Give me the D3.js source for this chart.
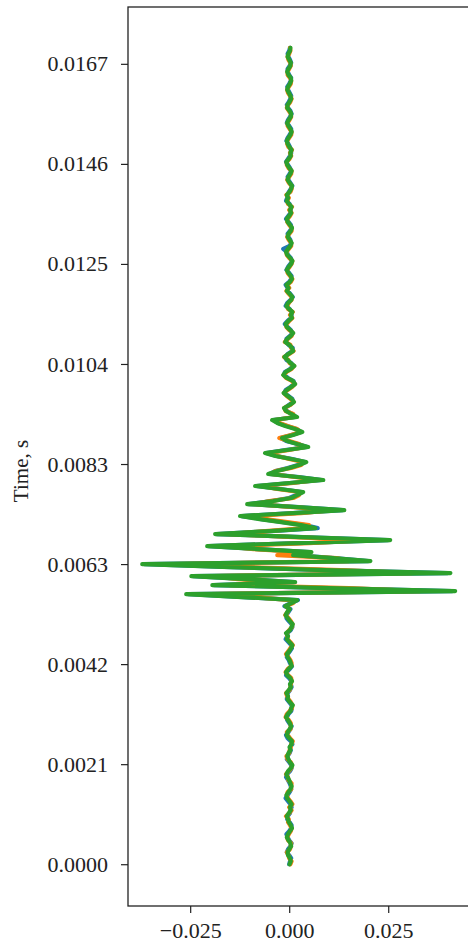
<!DOCTYPE html>
<html>
<head>
<meta charset="utf-8">
<script src="https://cdn.jsdelivr.net/npm/d3@7"></script>
<style>
html,body{margin:0;padding:0;background:#fff;}
svg{display:block;}
text{font-family:"Liberation Serif","Times New Roman",serif;}
</style>
</head>
<body>
<svg id="chart" width="468" height="949"></svg>
<script>
// sampling rate of the traces (Hz); time of sample i is i / sampleRate
const sampleRate = 16000;

const seriesNames = ["trace 1", "trace 2", "trace 3"];
const seriesColors = ["#1f77b4", "#ff7f0e", "#2ca02c"];

const blueValues = [
0.0000,0.0002,0.0005,0.0000,-0.0006,-0.0003,0.0003,0.0006,0.0000,-0.0004,
-0.0007,0.0000,0.0005,0.0006,0.0001,-0.0005,-0.0004,0.0002,0.0003,0.0006,
0.0003,-0.0003,-0.0009,-0.0004,0.0001,0.0005,0.0004,0.0001,-0.0003,-0.0008,
-0.0005,0.0002,0.0006,0.0005,0.0000,-0.0006,-0.0004,0.0001,0.0004,0.0002,
0.0008,0.0004,-0.0004,-0.0008,-0.0002,0.0003,0.0006,0.0000,-0.0005,-0.0006,
-0.0002,0.0005,0.0007,0.0006,0.0000,-0.0006,-0.0005,-0.0004,0.0002,0.0006,
0.0004,0.0005,0.0000,-0.0008,-0.0006,0.0001,0.0007,0.0002,-0.0001,-0.0006,
-0.0004,0.0002,0.0007,0.0005,-0.0002,-0.0009,-0.0005,-0.0005,0.0004,0.0008,
0.0006,-0.0001,-0.0007,-0.0007,-0.0002,0.0003,
-0.0012,0.0004,0.0022,-0.0115,-0.0255,0.0412,0.0105,-0.0190,0.0012,-0.0105,
-0.0243,0.0400,0.0095,-0.0145,-0.0365,0.0200,0.0115,0.0015,0.0052,-0.0078,
-0.0203,0.0018,0.0250,0.0035,-0.0183,-0.0045,0.0072,0.0040,-0.0015,-0.0070,
-0.0120,0.0008,0.0135,0.0025,-0.0102,-0.0045,0.0000,0.0018,0.0032,-0.0022,
-0.0083,0.0002,0.0082,0.0025,-0.0050,-0.0035,-0.0004,0.0022,0.0040,0.0008,
-0.0032,-0.0058,-0.0010,0.0045,0.0022,-0.0008,-0.0022,0.0006,0.0030,0.0018,
-0.0006,-0.0028,-0.0040,0.0016,0.0008,
-0.0006,-0.0011,-0.0001,0.0010,0.0008,-0.0002,-0.0012,-0.0009,0.0003,0.0013,
0.0011,-0.0003,-0.0013,-0.0011,0.0002,0.0011,0.0005,-0.0007,-0.0010,-0.0004,
0.0008,0.0009,-0.0001,-0.0008,-0.0007,0.0002,0.0008,0.0004,-0.0004,-0.0011,
-0.0004,0.0005,0.0006,0.0006,0.0001,-0.0009,-0.0005,0.0003,0.0009,0.0003,
-0.0004,-0.0004,-0.0009,0.0000,0.0005,0.0006,0.0000,-0.0007,-0.0003,0.0003,
0.0007,0.0004,-0.0003,-0.0006,-0.0015,0.0001,0.0005,0.0003,-0.0002,-0.0004,
0.0002,0.0006,0.0004,-0.0002,-0.0008,-0.0002,0.0003,0.0004,0.0004,0.0001,
-0.0008,-0.0005,-0.0004,-0.0001,0.0004,0.0008,0.0003,-0.0002,-0.0004,0.0001,
0.0005,0.0002,-0.0003,-0.0008,-0.0003,0.0002,0.0005,0.0004,0.0002,-0.0002,
-0.0007,-0.0004,0.0001,0.0005,0.0005,0.0000,-0.0006,-0.0003,0.0002,0.0006,
0.0003,-0.0003,-0.0006,-0.0001,0.0003,0.0005,0.0001,-0.0003,-0.0005,0.0000,
0.0004,0.0005,0.0000,-0.0004,-0.0004,0.0001,0.0005,0.0002,-0.0002,-0.0004,
0.0000,0.0002
];

const orangeValues = [
0.0003,0.0006,0.0000,-0.0002,-0.0006,0.0002,0.0004,0.0005,-0.0003,-0.0005,
-0.0001,0.0004,0.0006,0.0002,-0.0003,-0.0001,-0.0008,0.0000,0.0006,0.0000,
0.0008,0.0003,-0.0003,-0.0006,-0.0004,0.0005,0.0005,0.0006,-0.0002,-0.0003,
-0.0008,-0.0001,0.0005,0.0007,0.0004,-0.0004,-0.0007,0.0000,0.0001,0.0004,
0.0005,0.0009,0.0002,-0.0004,-0.0006,0.0003,0.0004,0.0004,-0.0001,-0.0009,
-0.0006,0.0001,0.0007,0.0008,0.0004,-0.0002,-0.0005,-0.0008,0.0001,0.0003,
0.0004,0.0006,0.0005,-0.0003,-0.0009,-0.0004,0.0005,0.0006,0.0003,-0.0002,
-0.0008,-0.0002,0.0003,0.0009,0.0003,-0.0004,-0.0005,-0.0006,0.0000,0.0007,
0.0008,0.0004,-0.0002,-0.0010,-0.0004,-0.0001,
-0.0008,0.0010,0.0005,-0.0090,-0.0200,0.0330,0.0150,-0.0150,-0.0020,-0.0130,
-0.0190,0.0310,0.0130,-0.0110,-0.0290,0.0150,0.0120,-0.0030,0.0030,-0.0090,
-0.0160,0.0050,0.0200,0.0010,-0.0150,-0.0060,0.0040,0.0050,-0.0005,-0.0060,
-0.0100,0.0030,0.0110,0.0010,-0.0085,-0.0050,0.0010,0.0025,0.0025,-0.0030,
-0.0070,0.0010,0.0070,0.0015,-0.0045,-0.0035,0.0005,0.0030,0.0035,0.0000,
-0.0030,-0.0050,0.0000,0.0040,0.0025,0.0000,-0.0025,0.0005,0.0028,0.0020,
-0.0004,-0.0025,-0.0035,0.0012,0.0010,
-0.0009,-0.0012,0.0003,0.0011,0.0004,-0.0006,-0.0013,-0.0004,0.0007,0.0014,
0.0007,-0.0008,-0.0014,-0.0007,0.0006,0.0012,0.0001,-0.0002,-0.0013,0.0000,
0.0011,0.0005,0.0003,-0.0011,-0.0003,0.0006,0.0009,0.0000,-0.0007,-0.0007,
0.0000,0.0008,0.0002,0.0009,-0.0003,-0.0005,-0.0001,0.0006,0.0006,-0.0001,
-0.0007,0.0000,-0.0005,0.0004,0.0008,0.0002,-0.0004,-0.0005,0.0001,0.0006,
0.0008,0.0000,-0.0006,-0.0007,-0.0001,0.0005,0.0005,-0.0001,-0.0005,0.0000,
0.0006,0.0006,0.0000,-0.0005,-0.0004,0.0002,0.0006,0.0000,0.0007,-0.0003,
-0.0005,-0.0001,-0.0007,0.0003,0.0006,0.0006,-0.0001,-0.0005,0.0000,0.0005,
0.0006,-0.0002,-0.0006,-0.0006,0.0001,0.0005,0.0002,0.0007,-0.0002,-0.0005,
-0.0005,0.0000,0.0005,0.0006,0.0001,-0.0004,-0.0004,0.0001,0.0005,0.0004,
-0.0001,-0.0006,-0.0003,0.0003,0.0006,0.0002,-0.0003,-0.0005,-0.0001,0.0004,
0.0005,0.0002,-0.0004,-0.0004,0.0000,0.0004,0.0003,-0.0002,-0.0004,0.0000,
0.0003,0.0002
];

const greenValues = [
0.0001,0.0004,0.0002,-0.0003,-0.0004,0.0000,0.0005,0.0003,-0.0002,-0.0006,
-0.0003,0.0002,0.0007,0.0004,-0.0001,-0.0003,-0.0006,-0.0001,0.0004,0.0002,
0.0006,0.0001,-0.0005,-0.0007,-0.0002,0.0003,0.0006,0.0003,0.0000,-0.0004,
-0.0007,-0.0003,0.0004,0.0008,0.0002,-0.0002,-0.0005,-0.0002,0.0003,0.0001,
0.0006,0.0007,0.0000,-0.0006,-0.0004,0.0001,0.0005,0.0002,-0.0003,-0.0008,
-0.0004,0.0003,0.0005,0.0009,0.0002,-0.0004,-0.0003,-0.0007,-0.0001,0.0004,
0.0002,0.0007,0.0003,-0.0005,-0.0008,-0.0002,0.0006,0.0004,0.0001,-0.0004,
-0.0006,0.0000,0.0005,0.0008,0.0001,-0.0006,-0.0003,-0.0008,0.0002,0.0006,
0.0009,0.0002,-0.0004,-0.0009,-0.0005,0.0001,
-0.0010,0.0006,0.0020,-0.0120,-0.0260,0.0419,0.0100,-0.0194,0.0015,-0.0110,
-0.0247,0.0407,0.0090,-0.0150,-0.0371,0.0205,0.0110,0.0010,0.0056,-0.0080,
-0.0207,0.0020,0.0255,0.0030,-0.0187,-0.0050,0.0066,0.0030,-0.0020,-0.0075,
-0.0124,0.0010,0.0139,0.0020,-0.0106,-0.0040,0.0005,0.0020,0.0035,-0.0025,
-0.0086,0.0000,0.0086,0.0020,-0.0053,-0.0030,0.0000,0.0025,0.0043,0.0005,
-0.0035,-0.0061,-0.0005,0.0048,0.0020,-0.0005,-0.0018,0.0010,0.0033,0.0015,
-0.0010,-0.0030,-0.0043,0.0020,0.0005,
-0.0008,-0.0013,0.0001,0.0012,0.0006,-0.0004,-0.0014,-0.0006,0.0005,0.0015,
0.0009,-0.0006,-0.0015,-0.0009,0.0004,0.0013,0.0003,-0.0004,-0.0012,-0.0002,
0.0010,0.0007,0.0001,-0.0010,-0.0005,0.0004,0.0010,0.0002,-0.0006,-0.0009,
-0.0002,0.0007,0.0004,0.0008,-0.0001,-0.0007,-0.0003,0.0005,0.0008,0.0001,
-0.0006,-0.0002,-0.0007,0.0002,0.0007,0.0004,-0.0002,-0.0006,-0.0001,0.0005,
0.0008,0.0002,-0.0005,-0.0008,-0.0003,0.0003,0.0006,0.0001,-0.0004,-0.0002,
0.0004,0.0007,0.0002,-0.0004,-0.0006,0.0000,0.0005,0.0002,0.0006,-0.0001,
-0.0006,-0.0003,-0.0006,0.0001,0.0005,0.0007,0.0001,-0.0004,-0.0002,0.0003,
0.0006,0.0000,-0.0005,-0.0007,-0.0001,0.0004,0.0003,0.0006,0.0000,-0.0004,
-0.0006,-0.0002,0.0003,0.0006,0.0003,-0.0002,-0.0005,-0.0001,0.0004,0.0005,
0.0001,-0.0005,-0.0004,0.0001,0.0005,0.0003,-0.0001,-0.0005,-0.0003,0.0002,
0.0005,0.0004,-0.0002,-0.0005,-0.0002,0.0003,0.0004,0.0000,-0.0004,-0.0002,
0.0002,0.0003
];

const xTickValues = [-0.025, 0.0, 0.025];
const xTickLabels = ["\u22120.025", "0.000", "0.025"];
const yTickValues = [0, 0.0020833, 0.0041667, 0.00625, 0.0083333, 0.0104167, 0.0125, 0.0145833, 0.0166667];
const yTickLabels = ["0.0000", "0.0021", "0.0042", "0.0063", "0.0083", "0.0104", "0.0125", "0.0146", "0.0167"];
const yAxisTitle = "Time, s";
const xLimits = [-0.0407, 0.0459];
const yLimits = [-0.00087, 0.01785];

const W = 468, H = 949;
const plot = {left: 128, top: 7, right: 471, bottom: 906};

const svg = d3.select("#chart");

const x = d3.scaleLinear().domain(xLimits).range([plot.left, plot.right]);
const y = d3.scaleLinear().domain(yLimits).range([plot.bottom, plot.top]);

const allSeries = [blueValues, orangeValues, greenValues];

const line = d3.line()
  .x(d => x(d.v))
  .y(d => y(d.t));

const g = svg.append("g");
allSeries.forEach((vals, si) => {
  const pts = vals.map((v, i) => ({t: i / sampleRate, v: v}));
  g.append("path")
    .datum(pts)
    .attr("d", line)
    .attr("fill", "none")
    .attr("stroke", seriesColors[si])
    .attr("stroke-width", 4.2)
    .attr("stroke-linejoin", "round")
    .attr("stroke-linecap", "round");
});

// axes
const xAxis = d3.axisBottom(x)
  .tickValues(xTickValues)
  .tickFormat((d, i) => xTickLabels[i])
  .tickSizeInner(7).tickSizeOuter(0).tickPadding(9);
const yAxis = d3.axisLeft(y)
  .tickValues(yTickValues)
  .tickFormat((d, i) => yTickLabels[i])
  .tickSizeInner(7).tickSizeOuter(0).tickPadding(13);

const gx = svg.append("g").attr("transform", `translate(0,${plot.bottom})`).call(xAxis);
const gy = svg.append("g").attr("transform", `translate(${plot.left},0)`).call(yAxis);
[gx, gy].forEach(a => {
  a.select(".domain").remove();
  a.selectAll(".tick line").attr("stroke", "#222").attr("stroke-width", 1.2);
  a.selectAll(".tick text").attr("fill", "#222").style("font-size", "22px")
    .style("font-family", "'Liberation Serif', serif");
});

// spines
svg.append("rect")
  .attr("x", plot.left).attr("y", plot.top)
  .attr("width", plot.right - plot.left).attr("height", plot.bottom - plot.top)
  .attr("fill", "none").attr("stroke", "#222").attr("stroke-width", 1.3);

svg.append("text")
  .attr("transform", `translate(21,471) rotate(-90)`)
  .attr("text-anchor", "middle")
  .attr("dominant-baseline", "central")
  .style("font-size", "21px")
  .attr("fill", "#222")
  .text(yAxisTitle);
</script>
</body>
</html>
